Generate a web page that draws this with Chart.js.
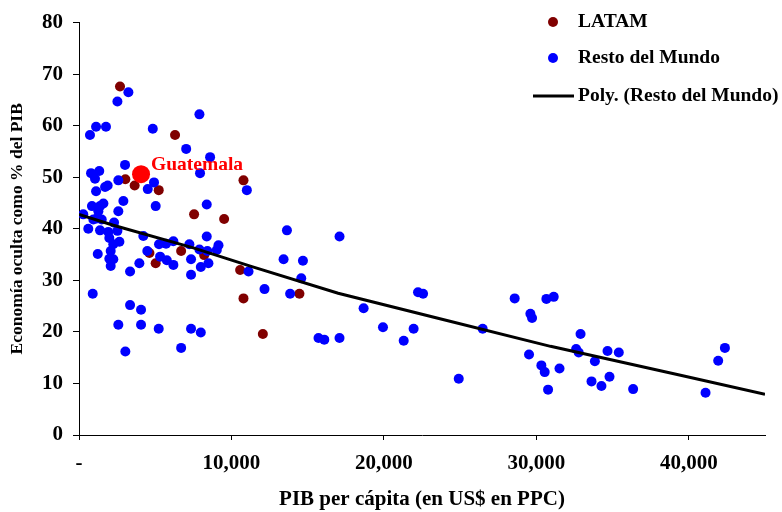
<!DOCTYPE html>
<html>
<head>
<meta charset="utf-8">
<script src="https://cdn.jsdelivr.net/npm/chart.js@4.4.1/dist/chart.umd.min.js"></script>
<style>
  html, body { margin: 0; padding: 0; background: #fff; }
</style>
</head>
<body>
<canvas id="grafico" width="782" height="512"></canvas>
<script>
// [PIB per cápita (US$ PPC), economía oculta % del PIB]
const latam = [
  [2690, 67.6], [6300, 58.2], [3040, 49.6], [3650, 48.4], [5230, 47.5],
  [10790, 49.4], [7550, 42.8], [9520, 41.9], [4620, 35.3], [6700, 35.7],
  [8210, 34.9], [5030, 33.3], [10570, 32.0], [14460, 27.4], [10790, 26.5],
  [12060, 19.6]
];
const restoMundo = [
  [3240, 66.5], [2520, 64.7], [7900, 62.2], [1120, 59.8], [1770, 59.8],
  [720, 58.2], [4840, 59.4], [7030, 55.5], [8600, 53.9], [3020, 52.4],
  [790, 50.8], [1330, 51.2], [1050, 49.7], [2580, 49.4], [4920, 49.0],
  [4510, 47.7], [7940, 50.8], [11010, 47.5], [1120, 47.3], [1710, 48.1],
  [1880, 48.4], [2910, 45.4], [5030, 44.4], [8380, 44.7], [850, 44.4],
  [1380, 44.4], [1600, 44.9], [1270, 43.4], [2580, 43.4], [280, 42.8],
  [940, 41.8], [1490, 41.8], [1160, 42.0], [610, 40.0], [1380, 39.7],
  [2300, 41.2], [2520, 39.6], [1920, 39.4], [4220, 38.6], [8380, 38.5],
  [1990, 38.2], [2650, 37.5], [2250, 37.0], [5250, 37.0], [5710, 37.1],
  [6190, 37.6], [7240, 37.0], [7900, 36.0], [8420, 35.7], [9040, 35.9],
  [9150, 36.8], [4480, 35.7], [2080, 35.7], [1230, 35.1], [1990, 34.2],
  [2250, 34.1], [5320, 34.6], [5760, 33.9], [6190, 33.0], [7350, 34.1],
  [8490, 33.3], [7990, 32.6], [3960, 33.3], [2080, 32.8], [3350, 31.7],
  [7350, 31.1], [11120, 31.7], [13640, 39.7], [17090, 38.5], [13420, 34.1],
  [14690, 33.8], [14580, 30.4], [12170, 28.3], [13850, 27.4], [900, 27.4],
  [3350, 25.2], [4070, 24.3], [2580, 21.4], [4070, 21.4], [5230, 20.6],
  [7350, 20.6], [7990, 19.9], [3040, 16.2], [6700, 16.9], [18670, 24.6],
  [22240, 27.7], [22570, 27.4], [19940, 20.9], [21950, 20.6], [21300, 18.3],
  [15710, 18.8], [16090, 18.5], [17090, 18.8], [26480, 20.6], [24910, 10.9],
  [28580, 26.5], [30660, 26.4], [31140, 26.8], [29610, 23.5], [29720, 22.7],
  [29520, 15.6], [30330, 13.5], [30550, 12.2], [30770, 8.8], [31520, 12.9],
  [32900, 19.6], [32610, 16.7], [32780, 16.0], [33840, 14.3], [33620, 10.4],
  [34270, 9.5], [34800, 11.3], [34670, 16.3], [35410, 16.0], [36350, 8.9],
  [41100, 8.2], [41930, 14.4], [42370, 16.9]
];
const guatemala = [[4070, 50.6]];
// tendencia polinómica
const tendencia = [
  [0, 42.8], [2250, 40.7], [7500, 36.3], [11290, 32.7], [17000, 27.5],
  [23480, 22.7], [30930, 17.2], [39460, 11.6], [45000, 7.9]
];
const xTickValues = [0, 10000, 20000, 30000, 40000];
const xTickLabels = ['-', '10,000', '20,000', '30,000', '40,000'];

const aPuntos = arr => arr.map(p => ({ x: p[0], y: p[1] }));
const FUENTE = '"Liberation Serif", "Times New Roman", serif';

// leyenda dibujada arriba a la derecha, dentro del área
const leyenda = {
  id: 'leyenda',
  afterDraw(chart) {
    const ctx = chart.ctx;
    const ds = chart.data.datasets;
    ctx.save();
    ctx.font = 'bold 19.5px ' + FUENTE;
    ctx.textBaseline = 'middle';
    ctx.textAlign = 'left';
    const filas = [
      { d: ds[0], y: 22 },
      { d: ds[1], y: 58 },
      { d: ds[2], y: 96 }
    ];
    filas.forEach(f => {
      if (f.d.showLine) {
        ctx.strokeStyle = f.d.borderColor;
        ctx.lineWidth = 3;
        ctx.beginPath();
        ctx.moveTo(533, f.y);
        ctx.lineTo(574, f.y);
        ctx.stroke();
      } else {
        ctx.fillStyle = f.d.backgroundColor;
        ctx.beginPath();
        ctx.arc(553, f.y, 5, 0, Math.PI * 2);
        ctx.fill();
      }
      ctx.fillStyle = '#000';
      ctx.fillText(f.d.label, 578, f.y);
    });
    ctx.restore();
  }
};

// etiqueta "Guatemala" junto a su punto
const etiquetaGuate = {
  id: 'etiquetaGuate',
  afterDatasetsDraw(chart) {
    const meta = chart.getDatasetMeta(3);
    const pt = meta.data[0];
    if (!pt) return;
    const ctx = chart.ctx;
    ctx.save();
    ctx.font = 'bold 19.5px ' + FUENTE;
    ctx.fillStyle = '#ff0000';
    ctx.textBaseline = 'middle';
    ctx.fillText('Guatemala', pt.x + 10, pt.y - 9);
    ctx.restore();
  }
};

const ctx = document.getElementById('grafico').getContext('2d');
new Chart(ctx, {
  type: 'scatter',
  data: {
    datasets: [
      {
        label: 'LATAM',
        data: aPuntos(latam),
        backgroundColor: '#800000',
        borderWidth: 0,
        pointRadius: 5,
        order: 4
      },
      {
        label: 'Resto del Mundo',
        data: aPuntos(restoMundo),
        backgroundColor: '#0000ff',
        borderWidth: 0,
        pointRadius: 5,
        order: 3
      },
      {
        type: 'line',
        label: 'Poly. (Resto del Mundo)',
        data: aPuntos(tendencia),
        borderColor: '#000000',
        borderWidth: 3,
        pointRadius: 0,
        showLine: true,
        fill: false,
        tension: 0,
        order: 2
      },
      {
        label: 'Guatemala',
        data: aPuntos(guatemala),
        backgroundColor: '#ff0000',
        borderWidth: 0,
        pointRadius: 9,
        order: 1
      }
    ]
  },
  options: {
    responsive: false,
    animation: false,
    devicePixelRatio: 1,
    layout: { padding: { left: 0, right: 17, top: 21, bottom: 0 } },
    plugins: {
      legend: { display: false },
      tooltip: { enabled: false }
    },
    scales: {
      x: {
        type: 'linear',
        min: 0,
        max: 45000,
        afterBuildTicks: s => { s.ticks = xTickValues.map(v => ({ value: v })); },
        ticks: {
          autoSkip: false,
          color: '#000',
          font: { family: FUENTE, size: 21, weight: 'bold' },
          padding: 11,
          maxRotation: 0,
          callback: v => xTickLabels[xTickValues.indexOf(v)]
        },
        grid: { drawOnChartArea: false, drawTicks: true, tickLength: 5, color: '#000' },
        border: { display: true, color: '#000', width: 1 },
        title: {
          display: true,
          text: 'PIB per cápita (en US$ en PPC)',
          color: '#000',
          font: { family: FUENTE, size: 21, weight: 'bold' },
          padding: { top: 0, bottom: 0 }
        },
        afterFit: s => { s.height = 77; }
      },
      y: {
        min: 0,
        max: 80,
        ticks: {
          stepSize: 10,
          color: '#000',
          font: { family: FUENTE, size: 21, weight: 'bold' },
          padding: 10
        },
        grid: { drawOnChartArea: false, drawTicks: true, tickLength: 6, color: '#000' },
        border: { display: true, color: '#000', width: 1 },
        title: {
          display: true,
          text: 'Economía oculta como % del PIB',
          color: '#000',
          font: { family: FUENTE, size: 17.5, weight: 'bold' },
          padding: { top: 7, bottom: 0 }
        },
        afterFit: s => { s.width = 79; }
      }
    }
  },
  plugins: [leyenda, etiquetaGuate]
});
</script>
</body>
</html>
